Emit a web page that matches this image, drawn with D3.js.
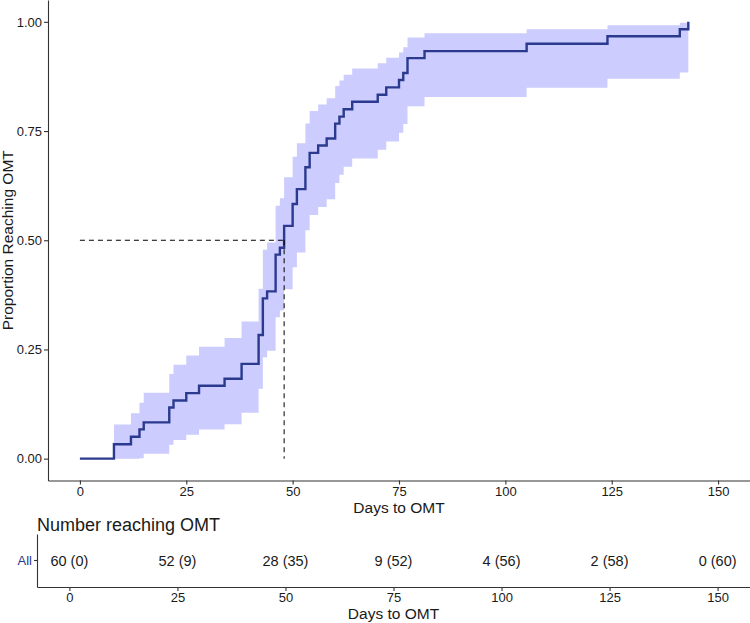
<!DOCTYPE html>
<html>
<head>
<meta charset="utf-8">
<script src="https://cdn.jsdelivr.net/npm/d3@7"></script>
<style>
  body { margin: 0; background: #fff; }
  svg { display: block; font-family: "Liberation Sans", Arial, Helvetica, sans-serif; }
</style>
</head>
<body>
<svg id="chart" width="750" height="623"></svg>
<script>
// step curve: day of each event and the cumulative proportion reaching OMT
var stepDays = [0, 8, 12, 14, 15, 21, 22, 25, 28, 34, 38, 42, 43, 44, 46, 47, 48, 50, 51, 53,
  54, 56, 58, 60, 61, 62, 64, 70, 72, 75, 76, 77, 81, 105, 124, 141, 143];
var stepProp = [0, .033, .05, .067, .083, .117, .133, .15, .167, .183, .217, .283, .367, .383, .467,
  .483, .533, .583, .617, .667, .7, .717, .733, .767, .783, .8, .817, .833, .85, .867, .883, .917,
  .933, .95, .967, .983, 1];
// confidence band
var ciLower = [0, 0, 0, .001, .011, .032, .043, .055, .067, .079, .105, .160, .232, .247, .324, .340,
  .388, .438, .472, .523, .558, .576, .594, .631, .650, .668, .687, .707, .726, .746, .766, .807,
  .828, .849, .870, .884, .884];
var ciUpper = [0, .078, .104, .128, .151, .194, .215, .236, .256, .276, .314, .389, .478, .495, .579,
  .596, .644, .691, .722, .767, .796, .811, .825, .853, .866, .879, .893, .905, .918, .930, .942,
  .964, .974, .983, .992, .998, .998];

var medianDay = 48;
var medianProp = 0.5;

var xTicks = [0, 25, 50, 75, 100, 125, 150];
var yTicks = [0, 0.25, 0.5, 0.75, 1];
var yTickLabels = ["0.00", "0.25", "0.50", "0.75", "1.00"];

var riskDays = [0, 25, 50, 75, 100, 125, 150];
var riskLabels = ["60 (0)", "52 (9)", "28 (35)", "9 (52)", "4 (56)", "2 (58)", "0 (60)"];
var riskGroup = "All";

var lineColor = "#2b3a8e";
var bandColor = "#ccccff";
var axisColor = "#333333";
var textColor = "#1a1a1a";

var svg = d3.select("#chart");

// ---- main panel ----
var x = d3.scaleLinear().domain([-7.5, 157.5]).range([48, 750]);
var y = d3.scaleLinear().domain([-0.05, 1.05]).range([480.5, 0]);

var rows = stepDays.map(function (d, i) {
  return { day: d, p: stepProp[i], lo: ciLower[i], hi: ciUpper[i] };
});

var band = d3.area()
  .curve(d3.curveStepAfter)
  .x(function (d) { return x(d.day); })
  .y0(function (d) { return y(d.lo); })
  .y1(function (d) { return y(d.hi); });

svg.append("path")
  .datum(rows)
  .attr("d", band)
  .attr("fill", bandColor)
  .attr("stroke", "none");

var line = d3.line()
  .curve(d3.curveStepAfter)
  .x(function (d) { return x(d.day); })
  .y(function (d) { return y(d.p); });

svg.append("path")
  .datum(rows)
  .attr("d", line)
  .attr("fill", "none")
  .attr("stroke", lineColor)
  .attr("stroke-width", 2.4);

// median lines
svg.append("line")
  .attr("x1", x(0)).attr("x2", x(medianDay))
  .attr("y1", y(medianProp)).attr("y2", y(medianProp))
  .attr("stroke", "#000").attr("stroke-width", 1)
  .attr("stroke-dasharray", "5,4");
svg.append("line")
  .attr("x1", x(medianDay)).attr("x2", x(medianDay))
  .attr("y1", y(medianProp)).attr("y2", y(0))
  .attr("stroke", "#000").attr("stroke-width", 1)
  .attr("stroke-dasharray", "5,4");

var styleAxis = function (g, size) {
  g.select(".domain").attr("stroke", axisColor).attr("stroke-width", 1.1);
  g.selectAll(".tick line").attr("stroke", axisColor).attr("stroke-width", 1.1);
  g.selectAll(".tick text").attr("fill", textColor).style("font-size", size + "px");
};

var yAxis = svg.append("g")
  .attr("transform", "translate(48,0)")
  .call(d3.axisLeft(y).tickValues(yTicks).tickSize(4).tickSizeOuter(0).tickPadding(2)
    .tickFormat(function (d, i) { return yTickLabels[i]; }));
styleAxis(yAxis, 13);

var xAxis = svg.append("g")
  .attr("transform", "translate(0,480.5)")
  .call(d3.axisBottom(x).tickValues(xTicks).tickSize(4).tickSizeOuter(0).tickPadding(2));
styleAxis(xAxis, 13);

svg.append("text")
  .attr("x", x(75)).attr("y", 513)
  .attr("text-anchor", "middle")
  .attr("fill", textColor)
  .style("font-size", "15.5px")
  .text("Days to OMT");

svg.append("text")
  .attr("transform", "translate(13," + y(0.5) + ") rotate(-90)")
  .attr("text-anchor", "middle")
  .attr("fill", textColor)
  .style("font-size", "15.5px")
  .text("Proportion Reaching OMT");

// ---- risk table ----
var x2 = d3.scaleLinear().domain([-7.5, 157.5]).range([37, 750]);
var y2 = d3.scaleBand().domain([riskGroup]).range([534, 587]);

svg.append("text")
  .attr("x", 37).attr("y", 531)
  .attr("fill", textColor)
  .style("font-size", "18px")
  .text("Number reaching OMT");

svg.selectAll(".risk")
  .data(riskDays)
  .enter().append("text")
  .attr("class", "risk")
  .attr("x", function (d) { return x2(d); })
  .attr("y", y2(riskGroup) + y2.bandwidth() / 2)
  .attr("dy", "0.35em")
  .attr("text-anchor", "middle")
  .attr("fill", textColor)
  .style("font-size", "14.5px")
  .text(function (d, i) { return riskLabels[i]; });

var rAxisL = svg.append("g")
  .attr("transform", "translate(37,0)")
  .call(d3.axisLeft(y2).tickSize(3).tickSizeOuter(0).tickPadding(2));
styleAxis(rAxisL, 13);
rAxisL.selectAll(".tick text").attr("fill", lineColor);

var rAxisB = svg.append("g")
  .attr("transform", "translate(0,587)")
  .call(d3.axisBottom(x2).tickValues(xTicks).tickSize(4).tickSizeOuter(0).tickPadding(2));
styleAxis(rAxisB, 13);

svg.append("text")
  .attr("x", x2(75)).attr("y", 619)
  .attr("text-anchor", "middle")
  .attr("fill", textColor)
  .style("font-size", "15.5px")
  .text("Days to OMT");
</script>
</body>
</html>
